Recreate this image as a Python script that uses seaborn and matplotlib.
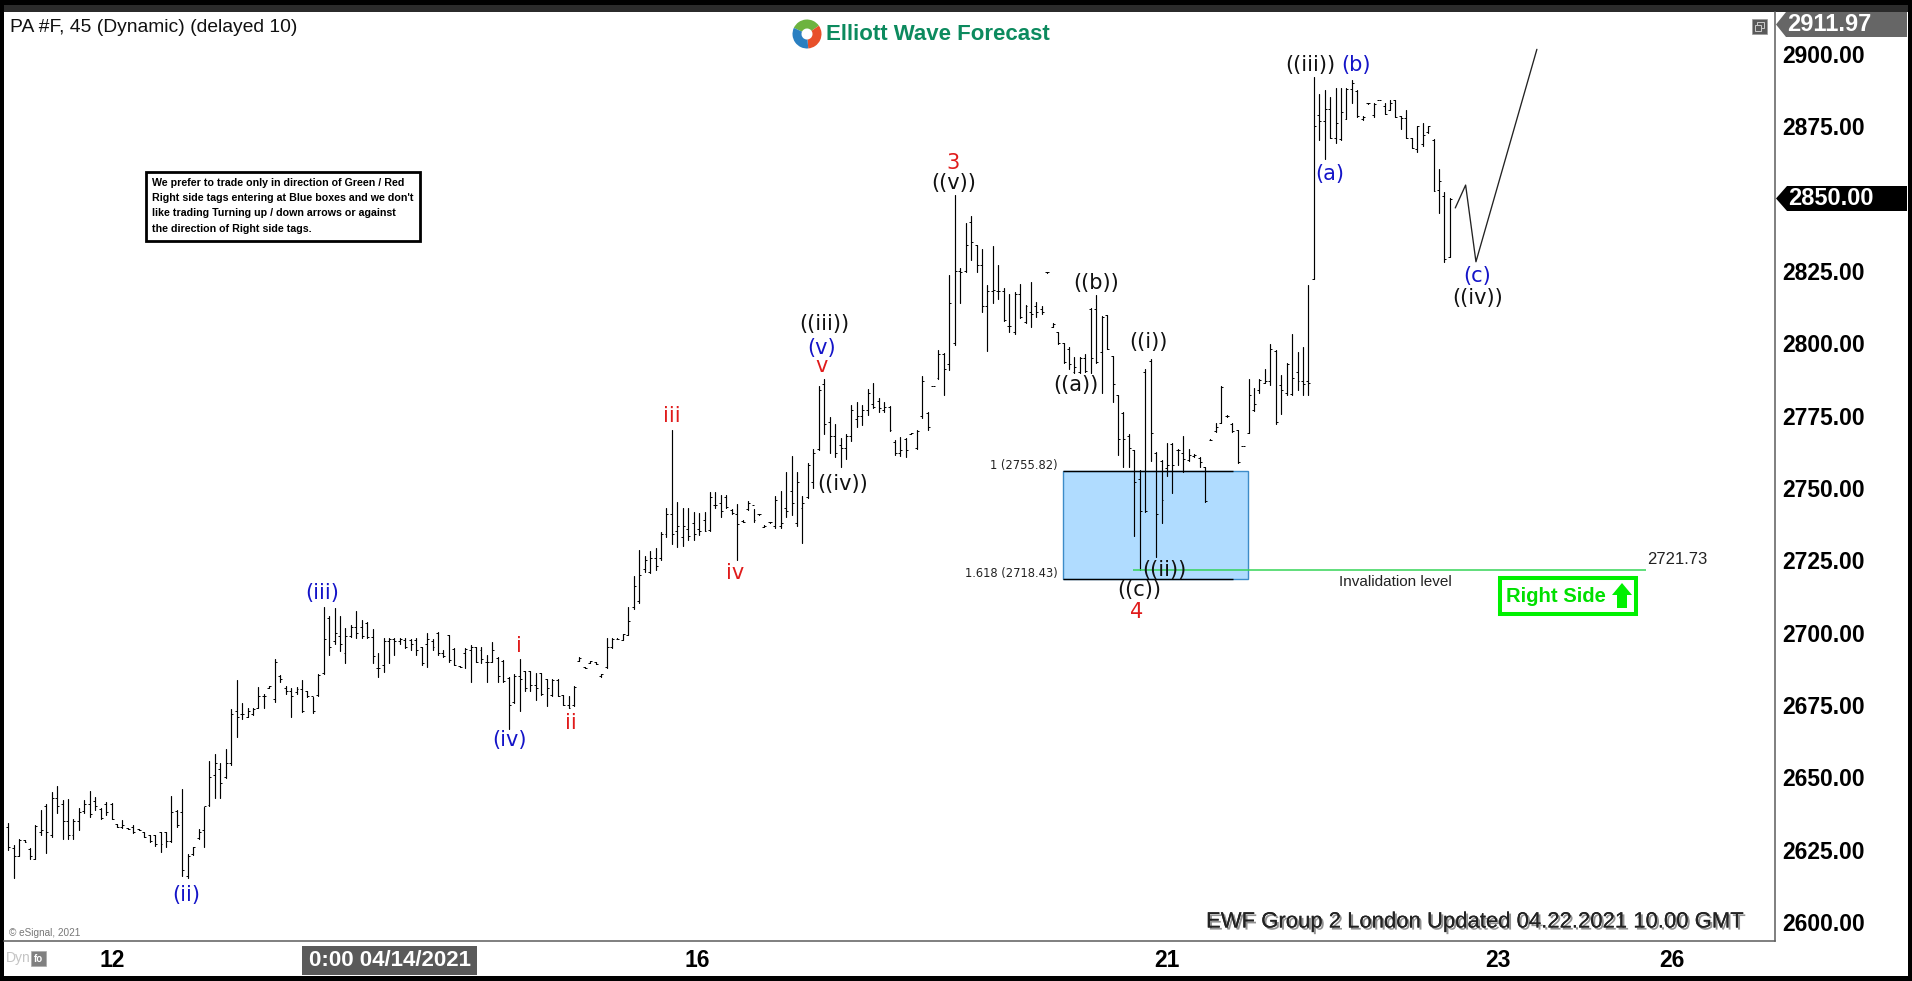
import numpy as np
import pandas as pd
import matplotlib
matplotlib.use("Agg")
import matplotlib.pyplot as plt
import matplotlib.patheffects as pe
from matplotlib.patches import Rectangle, Polygon, Wedge
from matplotlib.transforms import Affine2D
import seaborn as sns

highs = [
2634.3,2626.6,2628.9,2628.4,2625.5,2633.5,2638.7,2640.8,2645.1,2647.0,
2642.2,2642.5,2635.5,2639.3,2642.2,2645.3,2643.3,2639.6,2641.4,2641.3,
2633.9,2635.3,2632.6,2633.5,2632.3,2631.2,2630.1,2630.1,2631.2,2631.0,
2643.6,2638.9,2646.0,2623.5,2626.0,2632.2,2639.9,2655.7,2658.1,2654.9,
2660.0,2673.5,2683.7,2675.8,2673.9,2673.9,2681.1,2679.0,2681.6,2691.1,
2685.4,2681.6,2680.8,2681.1,2683.7,2680.0,2677.9,2685.7,2709.0,2705.8,
2708.4,2705.8,2701.5,2702.7,2707.5,2704.4,2703.8,2701.2,2692.9,2698.1,
2698.1,2698.1,2698.1,2698.1,2697.7,2698.1,2695.2,2700.0,2697.7,2700.1,
2694.0,2699.4,2694.6,2688.6,2694.6,2695.7,2695.2,2695.2,2692.3,2696.7,
2691.5,2690.6,2684.6,2685.9,2691.1,2686.9,2686.9,2686.2,2686.2,2683.9,
2683.9,2683.9,2678.5,2678.1,2681.6,2691.5,2688.3,2690.2,2690.0,2685.9,
2698.1,2698.1,2698.1,2699.6,2709.0,2719.6,2728.6,2726.6,2728.4,2729.2,
2734.7,2743.0,2770.1,2745.1,2743.0,2743.0,2741.9,2741.3,2741.8,2748.7,
2748.8,2747.6,2747.6,2742.7,2744.5,2738.8,2745.4,2742.7,2741.1,2737.3,
2738.4,2747.1,2749.0,2755.5,2761.1,2755.5,2747.3,2758.8,2763.4,2785.3,
2787.6,2774.5,2772.2,2767.2,2768.7,2778.7,2779.9,2778.7,2784.2,2786.2,
2781.0,2779.9,2778.5,2766.6,2767.6,2767.2,2769.2,2770.1,2788.8,2776.2,
2785.3,2797.7,2796.6,2823.6,2851.2,2825.9,2841.5,2844.0,2834.0,2832.5,
2820.1,2833.6,2827.1,2819.3,2817.0,2817.8,2820.5,2813.2,2821.2,2814.4,
2813.0,2824.6,2806.9,2804.0,2800.0,2798.6,2795.4,2795.4,2796.3,2812.1,
2816.7,2809.4,2809.8,2795.6,2782.2,2776.4,2768.7,2763.2,2756.3,2791.1,
2794.5,2762.6,2759.7,2765.5,2765.5,2763.4,2768.0,2763.4,2761.7,2760.6,
2757.4,2766.8,2772.4,2785.3,2775.2,2772.4,2770.1,2764.7,2787.6,2784.5,
2787.6,2791.1,2799.7,2797.7,2789.1,2793.1,2803.3,2796.9,2798.7,2820.2,
2891.9,2886.2,2887.5,2885.2,2888.1,2888.1,2888.1,2891.0,2887.5,2878.5,
2883.0,2882.9,2884.2,2883.2,2884.1,2884.1,2878.5,2880.6,2870.8,2875.1,
2876.0,2875.1,2870.5,2860.1,2852.4,2850.2]

lows = [
2625.1,2615.1,2622.8,2627.8,2622.0,2621.7,2630.1,2624.0,2629.5,2637.6,
2628.6,2628.9,2628.6,2632.0,2637.6,2636.2,2638.7,2635.8,2637.0,2635.5,
2633.0,2632.7,2632.3,2630.7,2631.8,2629.3,2627.8,2626.3,2624.3,2626.0,
2627.8,2633.0,2615.9,2615.1,2623.2,2628.8,2626.0,2640.1,2642.8,2642.8,
2649.7,2654.3,2664.1,2670.1,2670.8,2671.6,2673.9,2673.9,2681.0,2676.2,
2683.1,2679.0,2671.0,2679.0,2672.5,2677.9,2672.4,2678.2,2685.9,2692.3,
2696.1,2693.8,2689.4,2698.4,2698.1,2698.1,2698.1,2689.4,2684.8,2686.5,
2689.4,2692.3,2696.1,2694.6,2694.0,2692.3,2688.8,2688.3,2694.0,2692.3,
2691.7,2690.0,2688.8,2688.1,2688.0,2683.1,2690.0,2689.4,2683.1,2690.0,
2683.1,2683.1,2666.9,2675.6,2673.1,2680.0,2680.0,2676.7,2678.5,2674.7,
2678.1,2678.1,2675.0,2673.9,2674.7,2690.3,2687.8,2689.4,2689.2,2684.8,
2688.0,2694.9,2697.7,2697.5,2699.2,2708.1,2710.4,2721.1,2720.8,2721.7,
2725.0,2733.0,2730.7,2729.5,2730.0,2732.1,2732.1,2733.8,2735.0,2735.0,
2743.0,2739.9,2743.0,2741.1,2725.0,2738.3,2742.4,2738.2,2740.8,2736.5,
2738.1,2736.3,2736.1,2739.9,2740.7,2736.9,2730.9,2746.5,2749.9,2763.2,
2768.7,2762.0,2760.9,2757.2,2760.0,2766.4,2771.0,2771.8,2775.3,2777.6,
2776.4,2776.4,2769.6,2761.5,2761.1,2760.9,2768.7,2763.4,2774.1,2770.1,
2785.1,2787.6,2782.2,2790.8,2799.4,2814.0,2824.8,2828.8,2824.8,2810.9,
2797.4,2814.0,2815.3,2807.8,2804.0,2803.4,2808.9,2807.2,2805.5,2809.0,
2810.1,2824.4,2805.5,2799.8,2793.1,2791.3,2789.8,2789.8,2790.2,2789.8,
2793.1,2783.0,2797.9,2779.8,2761.5,2757.4,2757.4,2733.6,2721.7,2741.9,
2759.5,2726.3,2738.1,2754.0,2748.4,2758.0,2755.4,2759.5,2760.6,2757.4,
2745.3,2766.5,2769.5,2772.4,2774.5,2769.5,2758.8,2764.5,2768.9,2776.8,
2783.0,2786.2,2785.6,2772.1,2775.5,2782.2,2782.2,2783.9,2782.2,2782.2,
2822.1,2870.3,2863.7,2870.8,2869.4,2870.3,2877.4,2882.9,2878.3,2877.2,
2882.8,2878.1,2884.0,2879.2,2880.6,2878.1,2873.9,2870.8,2867.4,2866.0,
2868.3,2872.8,2852.6,2844.9,2828.2,2829.9]

opens = [
2633,2625.5,2623,2628.4,2625.4,2622,2631,2640,2630,2643,
2641,2635,2630,2635,2638.5,2641,2642,2639,2641,2641,
2633.9,2633,2632.6,2633,2632.2,2631,2630,2630,2631,2631,
2628,2638.5,2638,2616,2623.5,2629,2632,2640.5,2651,2653,
2650,2655,2673,2672,2671,2672,2674,2678,2681,2677,
2685,2681,2680,2679.5,2680.5,2680,2678,2678.5,2686,2705,
2697,2699,2693,2699,2702,2702,2703.5,2698.5,2688,2689,
2697,2698,2697,2697.5,2697.5,2697.5,2695,2696,2697,2700,
2693,2699.4,2694.4,2688.5,2693,2694,2695,2694,2690,2690,
2691.4,2690.4,2684.5,2676,2685,2686.7,2686.7,2682,2686,2684,
2678.5,2683.7,2678.5,2675,2675,2690.4,2688.2,2689.5,2690,2685,
2688.2,2695,2698,2697.6,2699.4,2709,2711,2722,2721,2726,
2726,2734,2741,2735,2733,2736,2738,2736,2739,2735.5,
2744,2745,2747,2742.5,2741,2738.7,2742.6,2744,2741,2736.6,
2738.3,2737,2737,2743,2749,2738,2743,2747,2752,2763.5,
2786,2773,2768,2765,2764,2768,2774,2775,2777,2779,
2780,2777,2778,2766,2762,2767,2768.8,2764,2775,2776,
2785.2,2788,2796.5,2793,2800,2825,2825,2842,2834,2827,
2813,2818,2818,2818,2806,2804,2817,2807.5,2811,2813,
2812,2824.5,2805.7,2803.8,2800,2798,2790,2790,2795,2812,
2812,2797,2809.7,2795.5,2782,2776,2768,2763,2753,2790,
2794,2762,2759.5,2757,2765.3,2763,2762,2759.7,2761,2760.5,
2757.3,2766.7,2769.7,2772.5,2775,2772.3,2770,2764.6,2769,2777,
2784,2786.4,2787,2797.5,2785.6,2783,2782.4,2790,2787,2787,
2822.3,2879,2877,2881,2871,2870.5,2877.5,2888,2887.3,2877.4,
2882.9,2879,2884.1,2882,2880.8,2884,2878.6,2878,2871,2867,
2869,2873,2870.3,2853,2851,2830]

closes = [
2626,2623,2628.4,2627.8,2622.8,2633.3,2632,2631,2643,2640,
2635,2630,2635,2638,2641,2637.5,2640,2636,2638,2635.7,
2633,2633.5,2632.3,2631,2631.9,2629.5,2628,2627,2627,2628,
2638,2633.5,2618,2623,2626,2631,2640,2650,2655,2648,
2655,2672,2671,2672,2673,2673.7,2678,2678,2681.5,2690,
2684,2680,2678,2680.5,2673,2678,2673,2685.5,2698,2695,
2700,2696,2699,2702,2700,2699,2698.5,2692,2688,2697,
2698,2697,2698,2695,2696,2694,2689.5,2698,2695,2693,
2691.9,2690.5,2689,2688.2,2694.4,2695,2690,2691,2690,2694,
2685,2683.3,2675,2685,2684,2681,2682,2681,2679,2681,
2683.7,2678.3,2675.2,2674,2681.4,2691.4,2687.9,2690.2,2689.3,2685.7,
2695,2698,2697.8,2699.5,2704,2716,2720,2725,2726,2723,
2734,2741,2734,2737,2737,2733.5,2734,2735,2735.2,2747,
2744,2742,2743.3,2741.5,2737.5,2738.4,2745,2739,2740.9,2737,
2738.2,2746,2738,2742,2745,2752,2745,2758,2762,2784,
2772,2768,2762,2764,2768,2777,2775,2777,2783,2778,
2777.5,2778,2770,2762,2763,2763,2769,2769.8,2787,2771,
2785.2,2796.5,2791,2814,2825,2824.5,2834,2835,2827,2813,
2818,2818.5,2818,2808,2806,2817,2809,2813,2810,2811,
2811,2824.5,2806.7,2800,2793.5,2793,2792,2795,2790.5,2795,
2793.5,2809,2798,2786,2767,2767,2764,2752,2742,2742,
2769,2741,2746,2758,2758,2763,2760,2761.5,2761.5,2759,
2745.5,2766.6,2771,2785,2775,2769.7,2759,2764.6,2782,2779,
2787.4,2787,2798,2773,2784,2793,2788,2787,2786,2786.2,
2875,2877,2881,2871,2876,2880,2888,2890,2878.5,2878.3,
2882.9,2882.8,2884.1,2879.4,2883,2878.3,2878,2871,2867.5,2875,
2872,2875,2852.8,2856,2829,2850]

forecast_bar = [266, 267.9, 269.8, 281]
forecast_price = [2846.8, 2854.7, 2828.2, 2901.6]

y_ticks = list(range(2600, 2925, 25))
x_tick_bars = [19.1, 126.6, 213, 273.9, 305.9]
x_tick_labels = ["12", "16", "21", "23", "26"]
fib_top, fib_bottom = 2755.82, 2718.43
invalidation = 2721.73

W, H = 1912, 981
sns.set_theme(style="white")
plt.rcParams["font.family"] = ["Liberation Sans", "DejaVu Sans"]

fig = plt.figure(figsize=(W / 100, H / 100), dpi=100, facecolor="black")
PX = Affine2D().scale(1, -1).translate(0, H)
ax = fig.add_axes([4 / W, 1 - 941 / H, (1775 - 4) / W, (941 - 12) / H], facecolor="white")


def ptext(x, y, s, **kw):
    kw.setdefault("ha", "center")
    kw.setdefault("va", "center")
    kw.setdefault("zorder", 5)
    return fig.text(x, y, s, transform=PX, **kw)


def prect(x0, y0, x1, y1, **kw):
    kw.setdefault("zorder", 4)
    fig.add_artist(Rectangle((x0, y0), x1 - x0, y1 - y0, transform=PX, **kw))


prect(4, 5, 1908, 12, fc="#2b2b2b", ec="none", zorder=-1)
prect(4, 12, 1908, 976, fc="white", ec="none", zorder=-1)

# fib box
ax.add_patch(Rectangle((193.9, fib_bottom), 34.0, fib_top - fib_bottom,
                       fc="#b0dcff", ec="#3d8cc8", lw=1, zorder=1))
ax.hlines([fib_top, fib_bottom], 193.9, 225.2, color="black", lw=1.0, zorder=1.5)

# OHLC bars
n = len(highs)
assert n == len(lows) == len(opens) == len(closes), (len(highs), len(lows), len(opens), len(closes))
bars = np.arange(n)
df = pd.DataFrame({"bar": np.repeat(bars, 2),
                   "price": np.ravel(np.column_stack([lows, highs]))})
sns.lineplot(data=df, x="bar", y="price", units="bar", estimator=None, sort=False,
             color="black", lw=0.85, legend=False, ax=ax, zorder=3)
ax.hlines(opens, bars - 0.36, bars, color="black", lw=0.7, zorder=3)
ax.hlines(closes, bars, bars + 0.36, color="black", lw=0.7, zorder=3)

# forecast path
sns.lineplot(x=forecast_bar, y=forecast_price, estimator=None, sort=False,
             color="#222222", lw=0.95, ax=ax, zorder=3)

# invalidation line
ax.hlines(invalidation, 206.8, 301.1, color="#35d457", lw=1.1, zorder=3.5)

ax.set_xlim(-0.772, 324.77)
ax.set_ylim(2593.5, 2914.5)
ax.set_xlabel("")
ax.set_ylabel("")
ax.yaxis.tick_right()
ax.set_yticks(y_ticks)
ax.set_yticklabels(["" if v in (2850, 2925) else f"{v:.2f}" for v in y_ticks])
ax.set_xticks(x_tick_bars)
ax.set_xticklabels(x_tick_labels)
ax.tick_params(axis="both", length=3, width=0.8, color="#555555", labelcolor="black",
               labelsize=16.5, pad=2)
for lab in ax.get_xticklabels() + ax.get_yticklabels():
    lab.set_fontweight("bold")
for lab in ax.get_yticklabels():
    lab.set_verticalalignment("center_baseline")
ax.tick_params(axis="x", pad=3)
sns.despine(ax=ax, left=True, top=True, right=False, bottom=False)
for side in ("right", "bottom"):
    ax.spines[side].set_color("#5c5c5c")
    ax.spines[side].set_linewidth(1.1)

# right-side value flags
fig.add_artist(Polygon([(1776, 24.5), (1786, 12), (1907, 12), (1907, 37), (1786, 37)],
                       transform=PX, fc="#666666", ec="none", zorder=4))
ptext(1787, 24.5, "2911.97", color="white", fontsize=17, fontweight="bold", ha="left")
fig.add_artist(Polygon([(1776, 198.5), (1787, 186), (1907, 186), (1907, 211), (1787, 211)],
                       transform=PX, fc="black", ec="none", zorder=4))
ptext(1788, 198.5, "2850.00", color="white", fontsize=17, fontweight="bold", ha="left")

# restore icon
prect(1752, 19, 1767, 34, fc="#5a5a5a", ec="#999999", lw=0.5)
prect(1757, 22, 1764, 28, fc="none", ec="#cccccc", lw=0.7, zorder=5)
prect(1755, 25, 1761, 31, fc="#5a5a5a", ec="#cccccc", lw=0.7, zorder=5)

# bottom bits
prect(302, 946, 477, 975, fc="#5a5a5a", ec="none")
ptext(390, 960, "0:00 04/14/2021", color="white", fontsize=16, fontweight="bold")
ptext(6, 958, "Dyn", color="#c4c4c4", fontsize=10, ha="left")
prect(31, 951, 46, 966, fc="#808080", ec="#aaaaaa", lw=0.5)
ptext(38.5, 959, "fo", color="white", fontsize=7, fontweight="bold")
ptext(9, 933, "© eSignal, 2021", color="#777777", fontsize=7.2, ha="left")

# title and logo
ptext(10, 28, "PA #F, 45 (Dynamic) (delayed 10)", color="#111111", fontsize=13.9, ha="left")
logo_c = (807, 34)
fig.add_artist(Wedge(logo_c, 14.5, 205, 325, width=9, fc="#6db33f", ec="none", transform=PX, zorder=4))
fig.add_artist(Wedge(logo_c, 14.5, 325, 445, width=9, fc="#e8502a", ec="none", transform=PX, zorder=4))
fig.add_artist(Wedge(logo_c, 14.5, 85, 205, width=9, fc="#2a7fc1", ec="none", transform=PX, zorder=4))
ptext(826, 35, "Elliott Wave Forecast", color="#0c8a5e", fontsize=16.0, fontweight="bold", ha="left")

# note box
prect(146, 172, 420, 241, fc="white", ec="black", lw=2.0)
note_lines = ["We prefer to trade only in direction of Green / Red",
              "Right side tags entering at Blue boxes and we don't",
              "like trading Turning up / down arrows or against",
              "the direction of Right side tags."]
for yy, line in zip([183, 198, 213, 229], note_lines):
    ptext(152, yy, line, color="black", fontsize=7.7, fontweight="bold", ha="left")

# wave labels
BLUE, RED, BLACK = "#1414c8", "#e01b1b", "#111111"
wave_labels = [
    ("(iii)", 322, 593, BLUE), ("(ii)", 186, 895, BLUE), ("(iv)", 509, 740, BLUE),
    ("i", 519, 646, RED), ("ii", 571, 723, RED), ("iii", 672, 416, RED),
    ("iv", 735, 573, RED), ("v", 822, 366, RED), ("(v)", 822, 348, BLUE),
    ("((iii))", 824, 324, BLACK), ("((iv))", 843, 484, BLACK), ("((v))", 954, 183, BLACK),
    ("3", 953, 163, RED), ("((b))", 1096, 283, BLACK), ("((a))", 1076, 385, BLACK),
    ("((i))", 1148, 342, BLACK), ("(a)", 1330, 174, BLUE), ("((iii))", 1310, 65, BLACK),
    ("(b)", 1356, 65, BLUE), ("(c)", 1477, 276, BLUE), ("((iv))", 1478, 298, BLACK),
    ("((ii))", 1164, 570, BLACK), ("((c))", 1139, 590, BLACK), ("4", 1137, 612, RED),
]
for s, x, y, c in wave_labels:
    ptext(x, y, s, color=c, fontsize=15, family="DejaVu Sans")

# fib text and invalidation
ptext(1058, 465, "1 (2755.82)", fontsize=8.3, color="#222222", ha="right", family="DejaVu Sans")
ptext(1058, 573, "1.618 (2718.43)", fontsize=8.3, color="#222222", ha="right", family="DejaVu Sans")
ptext(1647, 560, "2721.73", fontsize=12, color="#222222", ha="left")
ptext(1395, 582, "Invalidation level", fontsize=11.0, color="#222222")

# right side tag
prect(1500, 578, 1636, 614, fc="white", ec="#00f000", lw=2.9)
ptext(1506, 596, "Right Side", color="#00e000", fontsize=14.6, fontweight="bold", ha="left")
fig.add_artist(Polygon([(1622, 583), (1632, 595), (1627, 595), (1627, 608), (1617, 608),
                        (1617, 595), (1612, 595)], transform=PX, fc="#00f000", ec="none", zorder=5))

# footer
ptext(1206, 922, "EWF Group 2 London Updated 04.22.2021 10.00 GMT", color="#222222",
      fontsize=15.9, ha="left",
      path_effects=[pe.withSimplePatchShadow(offset=(1.5, -1.5), shadow_rgbFace="#777777", alpha=0.8),
                    pe.Normal()])

fig.savefig("out.png", dpi=100, facecolor=fig.get_facecolor())
